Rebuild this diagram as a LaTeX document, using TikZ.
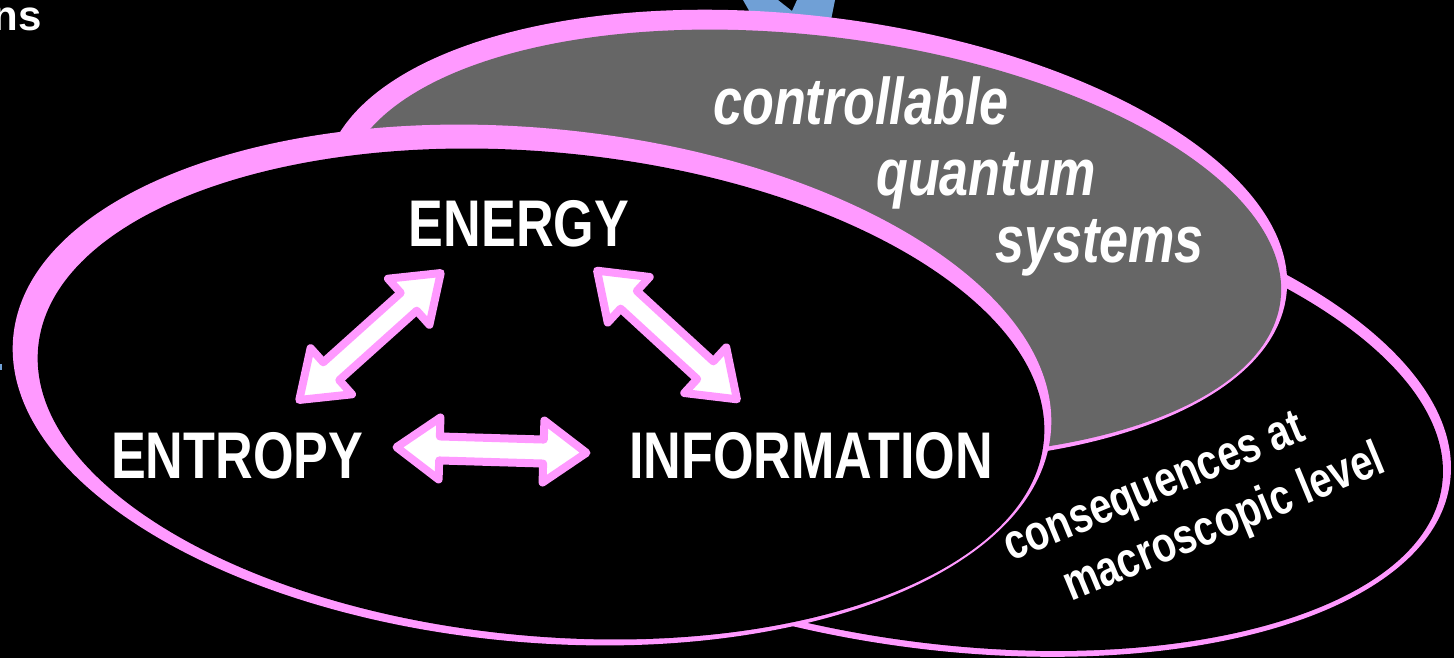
\documentclass[tikz,border=0pt]{standalone}
\usepackage{fontspec}
\setmainfont{Liberation Sans}
\newfontfamily\narrowsans{Liberation Sans}[FakeStretch=0.79]
\definecolor{rim}{RGB}{255,153,255}
\definecolor{slate}{RGB}{102,102,102}
\definecolor{skyblue}{RGB}{112,160,214}
\tikzset{
  biglabel/.style={text=white, inner sep=0pt,
    font=\narrowsans\bfseries\fontsize{66pt}{70pt}\selectfont},
  slantlabel/.style={text=white, inner sep=0pt,
    font=\narrowsans\bfseries\itshape\fontsize{66pt}{70pt}\selectfont},
  smalllabel/.style={text=white, inner sep=0pt,
    font=\narrowsans\bfseries\fontsize{50pt}{54pt}\selectfont},
  pics/fatarrow/.style={code={
    \filldraw[fill=white, draw=rim, line width=8pt, line join=round]
      (-95,0) -- (-52,-31) -- (-52,-12) -- (52,-12) -- (52,-31) -- (95,0)
      -- (52,31) -- (52,12) -- (-52,12) -- (-52,31) -- cycle;
  }}
}
\begin{document}
\begin{tikzpicture}[x=1pt, y=-1pt]
  % canvas
  \fill[black] (0,0) rectangle (1454,658);
  \useasboundingbox (0,0) rectangle (1454,658);

  % bits of neighbouring artwork peeking in
  \fill[skyblue] (743,0) -- (778,0) -- (792,11) -- (797,0) -- (835,0)
    -- (829,30) -- (760,30) -- cycle;
  \fill[skyblue] (0,364) rectangle (1.5,370);
  \node[text=white, inner sep=0pt, anchor=base east,
    font=\bfseries\fontsize{42pt}{46pt}\selectfont] (cut) at (42,31) {ns};

  % back ellipse: macroscopic consequences
  \fill[rim, rotate around={-8:(930,410)}] (930,410) ellipse [x radius=525pt, y radius=238pt];
  \fill[black, rotate around={-8:(932,414)}] (932,414) ellipse [x radius=515pt, y radius=228pt];

  % middle ellipse: controllable quantum systems
  \fill[rim, rotate around={-7:(805,236)}] (805,236) ellipse [x radius=485pt, y radius=220pt];
  \fill[slate, rotate around={-7:(812,243)}] (812,243) ellipse [x radius=472pt, y radius=207pt];

  % front ellipse: the thermodynamic triangle
  \fill[rim, rotate around={-5.3:(532,385)}] (532,385) ellipse [x radius=521pt, y radius=257pt];
  \fill[black, rotate around={-5.3:(541,394)}] (541,394) ellipse [x radius=505pt, y radius=242pt];

  % labels
  \node[slantlabel, anchor=base west] (ctrl) at (713,125) {controllable};
  \node[slantlabel, anchor=base west] (quant) at (876,195) {quantum};
  \node[slantlabel, anchor=base west] (sys) at (995,262) {systems};

  \node[smalllabel, anchor=base west, rotate=22.5] (cons) at (1011,562) {consequences at};
  \node[smalllabel, anchor=base west, rotate=22.5] (macro) at (1071,602) {macroscopic level};

  \node[biglabel, anchor=base] (energy) at (519,246) {ENERGY};
  \node[biglabel, anchor=base west] (entropy) at (111,478) {ENTROPY};
  \node[biglabel, anchor=base west] (information) at (629,478) {INFORMATION};

  % double arrows between the three quantities
  \pic (arrowEnergyEntropy) at (370,336.5) [rotate=41.9] {fatarrow};
  \pic (arrowEnergyInfo) at (667,335) [rotate=-42.6] {fatarrow};
  \pic (arrowEntropyInfo) at (491.5,450) [rotate=-1.7] {fatarrow};
\end{tikzpicture}
\end{document}
